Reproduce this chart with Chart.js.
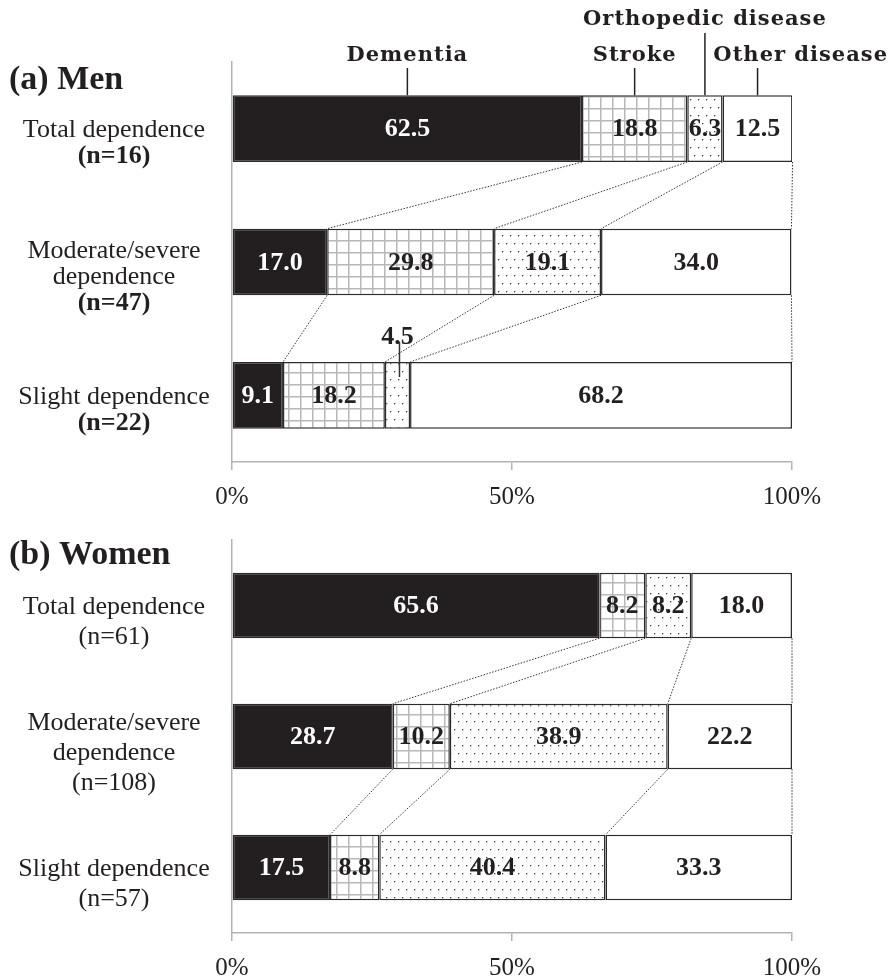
<!DOCTYPE html>
<html>
<head>
<meta charset="utf-8">
<script src="https://cdn.jsdelivr.net/npm/chart.js@4"></script>
<style>
  html, body { margin: 0; padding: 0; background: #fff; }
  #wrap { position: relative; width: 891px; height: 978px; }
  .panel { position: absolute; left: 0; width: 891px; }
  #men { top: 0; height: 510px; }
  #women { top: 510px; height: 468px; }
</style>
</head>
<body>
<div id="wrap">
  <div class="panel" id="men"><canvas id="chart-men"></canvas></div>
  <div class="panel" id="women"><canvas id="chart-women"></canvas></div>
</div>
<script>
// --- data (percent of each dependence group) ---
const diseases = ['Dementia', 'Stroke', 'Orthopedic disease', 'Other disease'];

const menLabels = [['Total dependence', '(n=16)'], ['Moderate/severe', 'dependence', '(n=47)'], ['Slight dependence', '(n=22)']];
const menDementia = [62.5, 17.0, 9.1];
const menStroke = [18.8, 29.8, 18.2];
const menOrtho = [6.3, 19.1, 4.5];
const menOther = [12.5, 34.0, 68.2];

const womenLabels = [['Total dependence', '(n=61)'], ['Moderate/severe', 'dependence', '(n=108)'], ['Slight dependence', '(n=57)']];
const womenDementia = [65.6, 28.7, 17.5];
const womenStroke = [8.2, 10.2, 8.8];
const womenOrtho = [8.2, 38.9, 40.4];
const womenOther = [18.0, 22.2, 33.3];

const xTicks = [0, 50, 100];

const SERIF = '"Liberation Serif", "Times New Roman", serif';
const INK = '#231f20';

// fill patterns: solid black, light grid, dots, white
function makeTile(w, h, draw) {
  const c = document.createElement('canvas');
  c.width = w; c.height = h;
  const g = c.getContext('2d');
  g.fillStyle = '#fff';
  g.fillRect(0, 0, w, h);
  draw(g);
  return g.createPattern(c, 'repeat');
}
const gridFill = makeTile(12, 12, g => {
  g.fillStyle = '#b8b8b8';
  g.fillRect(0, 0, 12, 1.5);
  g.fillRect(0, 0, 1.5, 12);
});
const dotFill = makeTile(8, 16, g => {
  g.fillStyle = '#3a3a3a';
  g.fillRect(2, 3, 1.3, 1.3);
  g.fillRect(6, 11, 1.3, 1.3);
});
const fills = [INK, gridFill, dotFill, '#ffffff'];

// category labels on the left, centred under each other
const rowLabels = {
  id: 'rowLabels',
  afterDraw(chart, args, opts) {
    const ctx = chart.ctx;
    const y = chart.scales.y;
    ctx.save();
    ctx.fillStyle = INK;
    ctx.textAlign = 'center';
    ctx.textBaseline = 'middle';
    opts.labels.forEach((lines, i) => {
      const c = y.getPixelForValue(i) + opts.shift;
      const first = c - (lines.length - 1) * opts.lh / 2;
      lines.forEach((t, k) => {
        const isN = t.startsWith('(n=');
        ctx.font = (isN && opts.boldN ? 'bold ' : '') + opts.size + 'px ' + SERIF;
        ctx.fillText(t, 114, first + k * opts.lh);
      });
    });
    // panel title
    ctx.textAlign = 'left';
    ctx.font = 'bold 34px ' + SERIF;
    ctx.fillText(opts.title, 9, opts.titleY);
    ctx.restore();
  }
};

// dotted lines joining segment boundaries of consecutive bars
const connectors = {
  id: 'connectors',
  beforeDatasetsDraw(chart) {
    const ctx = chart.ctx;
    const n = chart.data.labels.length;
    ctx.save();
    ctx.strokeStyle = '#333';
    ctx.lineWidth = 1;
    ctx.setLineDash([1.5, 1.5]);
    for (let r = 0; r < n - 1; r++) {
      chart.data.datasets.forEach((ds, d) => {
        const a = chart.getDatasetMeta(d).data[r];
        const b = chart.getDatasetMeta(d).data[r + 1];
        ctx.beginPath();
        ctx.moveTo(a.x, a.y + a.height / 2);
        ctx.lineTo(b.x, b.y - b.height / 2);
        ctx.stroke();
      });
    }
    ctx.restore();
  }
};

// numbers inside segments (or above with a leader when too narrow)
const valueLabels = {
  id: 'valueLabels',
  afterDatasetsDraw(chart) {
    const ctx = chart.ctx;
    ctx.save();
    ctx.font = 'bold 26px ' + SERIF;
    ctx.textAlign = 'center';
    ctx.textBaseline = 'middle';
    chart.data.datasets.forEach((ds, d) => {
      chart.getDatasetMeta(d).data.forEach((el, i) => {
        const txt = ds.data[i].toFixed(1);
        const left = Math.min(el.base, el.x), right = Math.max(el.base, el.x);
        const mid = (left + right) / 2;
        const w = ctx.measureText(txt).width;
        if (w <= right - left + 1) {
          ctx.fillStyle = d === 0 ? '#fff' : INK;
          ctx.fillText(txt, mid, el.y + 1);
        } else {
          const top = el.y - el.height / 2;
          ctx.fillStyle = INK;
          ctx.fillText(txt, mid, top - 25);
          ctx.strokeStyle = '#333';
          ctx.lineWidth = 1.5;
          ctx.beginPath();
          ctx.moveTo(mid + 2, top - 20);
          ctx.lineTo(mid + 2, top + 15);
          ctx.stroke();
        }
      });
    });
    ctx.restore();
  }
};

// disease names above the first bar with leader lines
const diseaseLegend = {
  id: 'diseaseLegend',
  afterDraw(chart, args, opts) {
    if (!opts.show) return;
    const ctx = chart.ctx;
    ctx.save();
    ctx.font = 'bold 21px "DejaVu Serif", serif';
    ctx.letterSpacing = '1px';
    ctx.fillStyle = INK;
    ctx.strokeStyle = '#222';
    ctx.lineWidth = 1.5;
    ctx.textBaseline = 'middle';
    chart.data.datasets.forEach((ds, d) => {
      const el = chart.getDatasetMeta(d).data[0];
      const mid = (el.base + el.x) / 2;
      const top = el.y - el.height / 2;
      let ty = 56, lineTop = 68, tx = mid;
      ctx.textAlign = 'center';
      if (d === 2) { ty = 20; lineTop = 33; }
      if (d === 3) { ctx.textAlign = 'right'; tx = 888; }
      ctx.fillText(ds.label, tx, ty);
      ctx.beginPath();
      ctx.moveTo(mid, lineTop);
      ctx.lineTo(mid, top);
      ctx.stroke();
    });
    ctx.restore();
  }
};

function drawPanel(id, labels, series, p) {
  new Chart(document.getElementById(id), {
    type: 'bar',
    data: {
      labels: labels.map(l => l.join(' ')),
      datasets: series.map((vals, i) => ({
        label: diseases[i],
        data: vals,
        backgroundColor: fills[i],
        borderColor: '#2b2b2b',
        borderWidth: 1.5,
        borderSkipped: false,
        barPercentage: 0.5,
        categoryPercentage: 1
      }))
    },
    options: {
      indexAxis: 'y',
      responsive: true,
      maintainAspectRatio: false,
      animation: false,
      layout: { padding: { top: p.top, right: 99, left: 0, bottom: 0 } },
      plugins: {
        legend: { display: false },
        tooltip: { enabled: false },
        rowLabels: { labels: labels, size: 26, lh: p.lh, shift: p.shift, boldN: p.boldN, title: p.title, titleY: p.titleY },
        diseaseLegend: { show: p.legend }
      },
      scales: {
        x: {
          stacked: true, min: 0, max: 100,
          afterBuildTicks: s => { s.ticks = xTicks.map(v => ({ value: v })); },
          afterFit: s => { s.height = p.xh; },
          grid: { drawOnChartArea: false, drawTicks: true, tickLength: 8, color: '#b3b3b3', lineWidth: 1.5 },
          border: { color: '#b3b3b3', width: 1.5 },
          ticks: { callback: v => v + '%', font: { family: SERIF, size: 25 }, color: INK, padding: 12, maxRotation: 0, autoSkip: false }
        },
        y: {
          stacked: true,
          afterFit: s => { s.width = 232; },
          grid: { display: false },
          border: { color: '#b3b3b3', width: 1.5 },
          ticks: { display: false }
        }
      }
    },
    plugins: [connectors, valueLabels, rowLabels, diseaseLegend]
  });
}

drawPanel('chart-men', menLabels, [menDementia, menStroke, menOrtho, menOther],
  { top: 62, xh: 48, lh: 26, shift: 15, boldN: true, title: '(a) Men', titleY: 80, legend: true });
drawPanel('chart-women', womenLabels, [womenDementia, womenStroke, womenOrtho, womenOther],
  { top: 30, xh: 45, lh: 30, shift: 17, boldN: false, title: '(b) Women', titleY: 45, legend: false });
</script>
</body>
</html>
